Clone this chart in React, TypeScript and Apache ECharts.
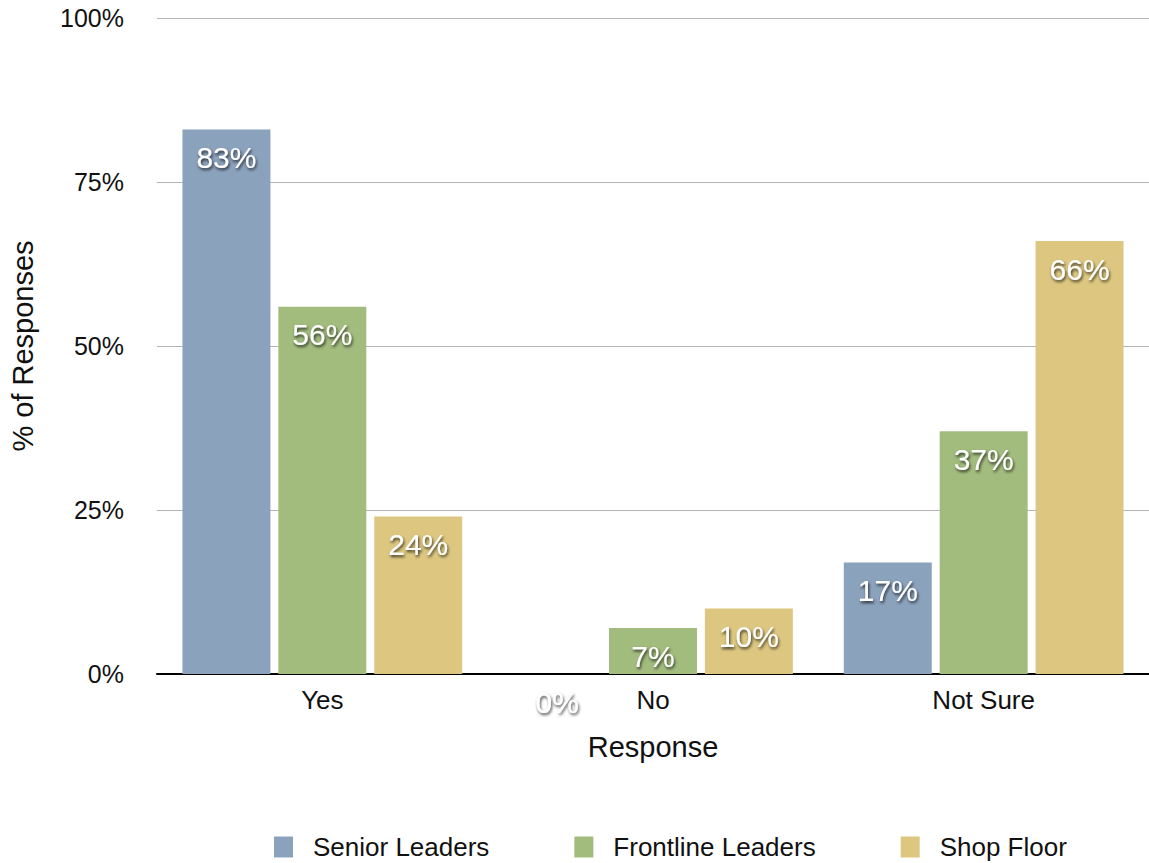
import React, { useEffect, useRef } from "react";
import * as echarts from "echarts";

const categories = ["Yes", "No", "Not Sure"];
const seriesNames = ["Senior Leaders", "Frontline Leaders", "Shop Floor"];
const seniorLeaders = [83, 0, 17];
const frontlineLeaders = [56, 7, 37];
const shopFloor = [24, 10, 66];
const colors = ["#8ba2bd", "#a2bc7e", "#ddc780"];
const yTicks = [0, 25, 50, 75, 100];

const FONT = '"Liberation Sans", Arial, Helvetica, sans-serif';

export default function App() {
  const ref = useRef<HTMLDivElement>(null);
  useEffect(() => {
    if (!ref.current) return;
    const chart = echarts.init(ref.current, undefined, { renderer: "svg" });
    const values = [seniorLeaders, frontlineLeaders, shopFloor];
    chart.setOption({
      animation: false,
      textStyle: { fontFamily: FONT },
      grid: { left: 155, right: 0, top: 18, bottom: 189, containLabel: false },
      legend: {
        data: seriesNames,
        left: 269,
        top: 829,
        itemWidth: 19,
        itemHeight: 21,
        itemGap: 85,
        icon: "rect",
        textStyle: { fontSize: 26, color: "#111", fontFamily: FONT, padding: [0, 0, 0, 15] },
      },
      xAxis: {
        type: "category",
        data: categories,
        name: "Response",
        nameLocation: "middle",
        nameGap: 58,
        nameTextStyle: { fontSize: 29, color: "#111", fontFamily: FONT },
        axisLine: { lineStyle: { color: "#000", width: 2 } },
        axisTick: { show: false },
        axisLabel: { fontSize: 26, color: "#111", margin: 13, fontFamily: FONT },
      },
      yAxis: {
        type: "value",
        min: yTicks[0],
        max: yTicks[yTicks.length - 1],
        interval: 25,
        name: "% of Responses",
        nameLocation: "middle",
        nameGap: 120,
        nameTextStyle: { fontSize: 29, color: "#111", fontFamily: FONT },
        axisLine: { show: false },
        axisTick: { show: false },
        axisLabel: { fontSize: 25, color: "#111", margin: 33, formatter: "{value}%", fontFamily: FONT },
        splitLine: { lineStyle: { color: "#b4b4b4", width: 1 } },
      },
      series: seriesNames.map((name, i) => ({
        name,
        type: "bar",
        data: values[i],
        barGap: "9%",
        barCategoryGap: "15.4%",
        itemStyle: { color: colors[i] },
        label: {
          show: true,
          position: "insideTop",
          distance: 13,
          formatter: "{c}%",
          fontSize: 30,
          fontFamily: FONT,
          color: "#fff",
          textShadowColor: "rgba(0,0,0,0.75)",
          textShadowBlur: 3,
          textShadowOffsetX: 1,
          textShadowOffsetY: 2,
        },
      })),
    });
    return () => chart.dispose();
  }, []);
  return (
    <div
      ref={ref}
      style={{ position: "fixed", left: 0, top: 0, width: 1149, height: 863, background: "#fff" }}
    />
  );
}
